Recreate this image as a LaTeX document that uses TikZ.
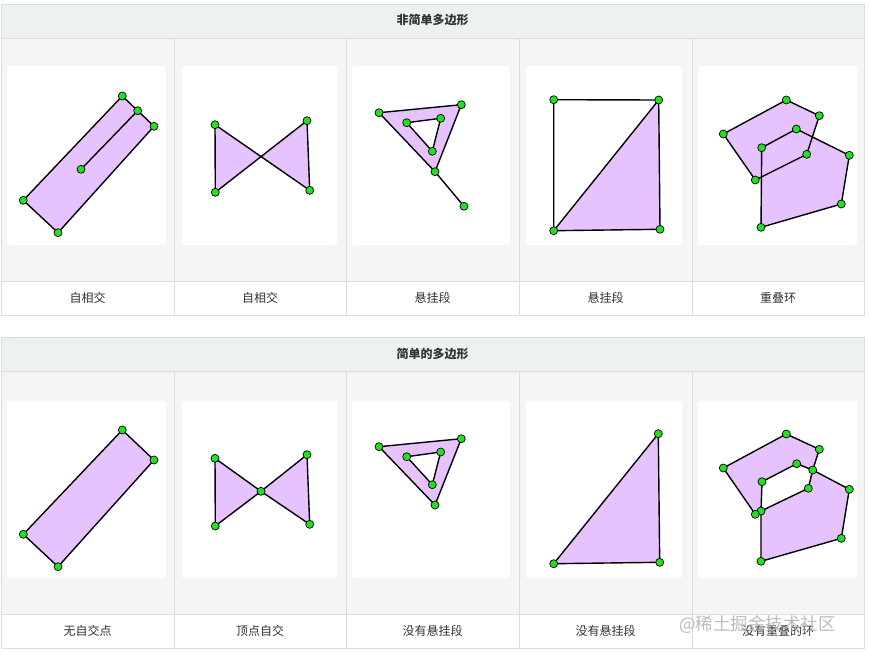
\documentclass[tikz,border=0pt]{standalone}
\usepackage{fontspec}
\newfontfamily\cjk{Noto Sans CJK SC}
\definecolor{gridline}{HTML}{DCDCDC}
\definecolor{headbg}{HTML}{EEF1F2}
\definecolor{cellbg}{HTML}{F5F5F5}
\definecolor{polyfill}{HTML}{E6C3FF}
\definecolor{dotgreen}{HTML}{22E022}
\definecolor{labeltext}{HTML}{333333}
\definecolor{wmark}{HTML}{B0B0B0}
\tikzset{
  poly/.style={fill=polyfill, draw=black, line width=1.4pt, line join=round},
  edge/.style={draw=black, line width=1.4pt, line cap=round},
  vdot/.style={circle, fill=dotgreen, draw=black, line width=0.7pt, inner sep=0pt, minimum size=8pt},
  imgbox/.style={fill=white, draw=none, rounded corners=2pt},
  lbl/.style={font=\cjk\fontsize{12}{14}\selectfont, text=labeltext},
  head/.style={font=\cjk\fontsize{12}{14}\selectfont\bfseries, text=labeltext},
}
\begin{document}
\begin{tikzpicture}[x=1pt,y=-1pt]
\useasboundingbox (0,0) rectangle (869,654);
\fill[white] (0,0) rectangle (869,654);
% ---------- top table ----------
\fill[headbg] (1,4) rectangle (864,38);
\fill[cellbg] (1,38) rectangle (864,281);
\fill[white] (1,281) rectangle (864,315);
\draw[gridline] (1,4) rectangle (864,315);
\draw[gridline] (1,38) -- (864,38) (1,281) -- (864,281);
\foreach \x in {174,346,519,692} \draw[gridline] (\x,38) -- (\x,315);
\node[head] (h1) at (432.5,20) {非简单多边形};
% ---------- bottom table ----------
\fill[headbg] (1,337) rectangle (864,371);
\fill[cellbg] (1,371) rectangle (864,614);
\fill[white] (1,614) rectangle (864,648);
\draw[gridline] (1,337) rectangle (864,648);
\draw[gridline] (1,371) -- (864,371) (1,614) -- (864,614);
\foreach \x in {174,346,519,692} \draw[gridline] (\x,371) -- (\x,648);
\node[head] (h2) at (432.5,354) {简单的多边形};
% ---------- white image boxes ----------
\foreach \a/\b in {7/166,182/337,352/510,526/682,698/857}{
  \fill[imgbox] (\a,66) rectangle (\b,245);
  \fill[imgbox] (\a,401) rectangle (\b,578);
}
% ---------- labels ----------
\node[lbl] (l1) at (87.5,298) {自相交};
\node[lbl] (l2) at (260,298) {自相交};
\node[lbl] (l3) at (432.5,298) {悬挂段};
\node[lbl] (l4) at (605.5,298) {悬挂段};
\node[lbl] (l5) at (778,298) {重叠环};
\node[lbl] (m1) at (87.5,631) {无自交点};
\node[lbl] (m2) at (260,631) {顶点自交};
\node[lbl] (m3) at (432.5,631) {没有悬挂段};
\node[lbl] (m4) at (605.5,631) {没有悬挂段};
\node[lbl] (m5) at (778,631) {没有重叠的环};

% ================= TOP ROW =================
% panel 1
\coordinate (a1) at (122.3,96);
\coordinate (b1) at (137.7,110.7);
\coordinate (c1) at (154,126.3);
\coordinate (d1) at (81,169.3);
\coordinate (e1) at (23.3,200.3);
\coordinate (f1) at (58,232.7);
\path[poly] (e1) -- (a1) -- (c1) -- (f1) -- cycle;
\draw[edge] (b1) -- (d1);
\foreach \p in {a1,b1,c1,d1,e1,f1} \node[vdot] (\p-v) at (\p) {};
% panel 2
\coordinate (g1) at (215,124.7);
\coordinate (h1p) at (215.3,192.3);
\coordinate (i1) at (307,120.7);
\coordinate (j1) at (309.7,190.3);
\path[poly] (g1) -- (j1) -- (i1) -- (h1p) -- cycle;
\foreach \p in {g1,h1p,i1,j1} \node[vdot] (\p-v) at (\p) {};
% panel 3
\coordinate (k1) at (379,112.7);
\coordinate (n1) at (461.3,104.7);
\coordinate (o1) at (435,171.7);
\coordinate (q1) at (406.7,122.7);
\coordinate (r1) at (440.7,118.3);
\coordinate (s1) at (432.3,151.3);
\coordinate (t1) at (464,206.3);
\path[poly, even odd rule] (k1) -- (n1) -- (o1) -- cycle (q1) -- (r1) -- (s1) -- cycle;
\draw[edge] (o1) -- (t1);
\foreach \p in {k1,n1,o1,q1,r1,s1,t1} \node[vdot] (\p-v) at (\p) {};
% panel 4
\coordinate (u1) at (553.7,99.7);
\coordinate (v1) at (658.7,100);
\coordinate (w1) at (553.7,230.7);
\coordinate (x1) at (660,229.3);
\fill[polyfill] (w1) -- (v1) -- (x1) -- cycle;
\draw[edge, line join=round] (u1) -- (v1) -- (x1) -- (w1) -- cycle;
\draw[edge] (w1) -- (v1);
\foreach \p in {u1,v1,w1,x1} \node[vdot] (\p-v) at (\p) {};
% panel 5
\coordinate (pa1) at (755.3,180);
\coordinate (pa2) at (723.3,134);
\coordinate (pa3) at (786.3,100);
\coordinate (pa4) at (819.3,115.7);
\coordinate (pa5) at (806.7,154.3);
\coordinate (pb1) at (761.7,147.7);
\coordinate (pb2) at (796.3,129);
\coordinate (pb3) at (849.3,155.3);
\coordinate (pb4) at (841.3,204);
\coordinate (pb5) at (761,227.3);
\fill[polyfill] (pa1) -- (pa2) -- (pa3) -- (pa4) -- (pa5) -- cycle;
\fill[polyfill] (pb1) -- (pb2) -- (pb3) -- (pb4) -- (pb5) -- cycle;
\draw[edge, line join=round] (pa1) -- (pa2) -- (pa3) -- (pa4) -- (pa5) -- cycle;
\draw[edge, line join=round] (pb1) -- (pb2) -- (pb3) -- (pb4) -- (pb5) -- cycle;
\foreach \p in {pa1,pa2,pa3,pa4,pa5,pb1,pb2,pb3,pb4,pb5} \node[vdot] (\p-v) at (\p) {};

% ================= BOTTOM ROW =================
% panel 1
\coordinate (a2) at (122.3,430);
\coordinate (c2) at (154,460);
\coordinate (e2) at (23.3,534.3);
\coordinate (f2) at (58,566.7);
\path[poly] (e2) -- (a2) -- (c2) -- (f2) -- cycle;
\foreach \p in {a2,c2,e2,f2} \node[vdot] (\p-v) at (\p) {};
% panel 2
\coordinate (g2) at (215,458.3);
\coordinate (h2p) at (215.3,526);
\coordinate (i2) at (307,454.7);
\coordinate (j2) at (309.7,524.3);
\coordinate (z2) at (261,491.3);
\path[poly] (g2) -- (z2) -- (j2) -- (i2) -- (z2) -- (h2p) -- cycle;
\foreach \p in {g2,h2p,i2,j2,z2} \node[vdot] (\p-v) at (\p) {};
% panel 3
\coordinate (k2) at (379,446.7);
\coordinate (n2) at (461.3,438.7);
\coordinate (o2) at (435,505);
\coordinate (q2) at (406.7,456.7);
\coordinate (r2) at (440.7,452);
\coordinate (s2) at (432.3,484.7);
\path[poly, even odd rule] (k2) -- (n2) -- (o2) -- cycle (q2) -- (r2) -- (s2) -- cycle;
\foreach \p in {k2,n2,o2,q2,r2,s2} \node[vdot] (\p-v) at (\p) {};
% panel 4
\coordinate (v2) at (658.3,433.7);
\coordinate (w2) at (553.7,563.7);
\coordinate (x2) at (659.7,562.3);
\path[poly] (w2) -- (v2) -- (x2) -- cycle;
\foreach \p in {v2,w2,x2} \node[vdot] (\p-v) at (\p) {};
% panel 5
\coordinate (ra1) at (723.3,468);
\coordinate (ra2) at (786.3,434);
\coordinate (ra3) at (819.3,449.3);
\coordinate (rx1) at (812.7,470);
\coordinate (rb3) at (849.3,489.3);
\coordinate (rb4) at (841.3,538.3);
\coordinate (rb5) at (761,561.3);
\coordinate (rx2) at (761,511);
\coordinate (ra5) at (755.3,514.3);
\coordinate (rh1) at (762,481.7);
\coordinate (rh2) at (796.7,463.7);
\coordinate (rh3) at (808.3,488.3);
\path[poly, even odd rule]
  (ra1) -- (ra2) -- (ra3) -- (rx1) -- (rb3) -- (rb4) -- (rb5) -- (rx2) -- (ra5) -- cycle
  (rh1) -- (rh2) -- (rx1) -- (rh3) -- (rx2) -- cycle;
\foreach \p in {ra1,ra2,ra3,rx1,rb3,rb4,rb5,rx2,ra5,rh1,rh2,rh3} \node[vdot] (\p-v) at (\p) {};

% watermark
\node[font=\cjk\fontsize{17.5}{20}\selectfont, text=wmark, opacity=0.85, anchor=west, inner sep=0pt] (wm) at (679,625) {@稀土掘金技术社区};
\end{tikzpicture}
\end{document}
